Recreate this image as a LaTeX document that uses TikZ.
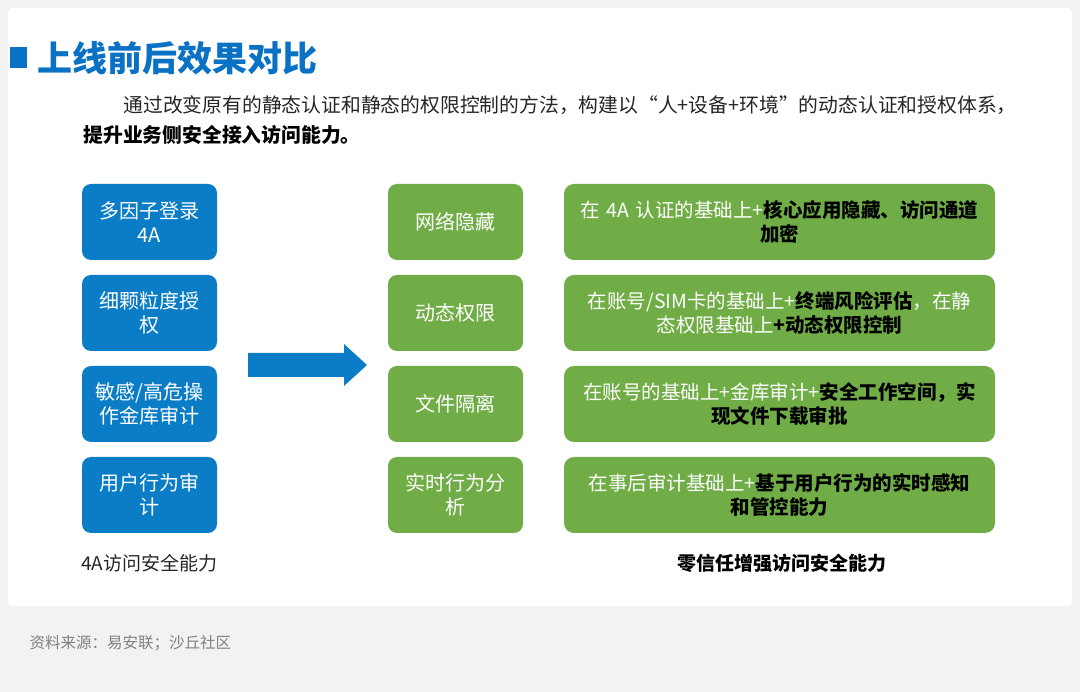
\documentclass[tikz,border=0pt]{standalone}
\usepackage{fontspec}
\setmainfont{Noto Sans CJK SC}
\begin{document}
\begin{tikzpicture}[x=1pt,y=-1pt,
 bbox/.style={fill=blueC,rounded corners=9pt,minimum width=135pt,minimum height=76pt,text=white,align=center,text width=120pt,font=\fontsize{20}{24}\selectfont},
 gbox/.style={fill=greenC,rounded corners=9pt,minimum width=135pt,minimum height=76pt,text=white,align=center,text width=120pt,font=\fontsize{20}{24}\selectfont},
 wbox/.style={fill=greenC,rounded corners=10pt,minimum width=431pt,minimum height=76pt,text=white,align=center,text width=420pt,font=\fontsize{19.5}{24}\selectfont},
 lab/.style={font=\fontsize{19}{22}\selectfont,text=black!85}]
\definecolor{blueC}{HTML}{0A7DC6}
\definecolor{greenC}{HTML}{70AD47}
\definecolor{bgC}{HTML}{F2F2F2}
\definecolor{titleC}{HTML}{0A72C4}
\useasboundingbox (0,0) rectangle (1080,692);
\fill[bgC] (0,0) rectangle (1080,692);
\fill[white,rounded corners=4pt] (8,8) rectangle (1072,606);
\fill[titleC] (10,47) rectangle (27,68);
\node[anchor=west,text=titleC,font=\fontsize{35}{38}\selectfont\bfseries] (title) at (34,58) {上线前后效果对比};
\node[anchor=west,font=\fontsize{19.8}{22}\selectfont,text=black!85] (p1) at (120,105) {通过改变原有的静态认证和静态的权限控制的方法，构建以“人+设备+环境”的动态认证和授权体系，};
\node[anchor=west,font=\fontsize{19.8}{22}\selectfont\bfseries,text=black] (p2) at (80,135) {提升业务侧安全接入访问能力。};
\node[bbox] (b1) at (149.5,222) {多因子登录\\4A};
\node[bbox] (b2) at (149.5,313) {细颗粒度授\\权};
\node[bbox] (b3) at (149.5,404) {敏感/高危操\\作金库审计};
\node[bbox] (b4) at (149.5,495) {用户行为审\\计};
\node[gbox] (g1) at (455.5,222) {网络隐藏};
\node[gbox] (g2) at (455.5,313) {动态权限};
\node[gbox] (g3) at (455.5,404) {文件隔离};
\node[gbox] (g4) at (455.5,495) {实时行为分\\析};
\node[wbox] (w1) at (779.5,222) {在 4A 认证的基础上+\textcolor{black}{\bfseries 核心应用隐藏、访问通道}\\\textcolor{black}{\bfseries 加密}};
\node[wbox] (w2) at (779.5,313) {在账号/SIM卡的基础上+\textcolor{black}{\bfseries 终端风险评估}，在静\\态权限基础上\textcolor{black}{\bfseries +动态权限控制}};
\node[wbox] (w3) at (779.5,404) {在账号的基础上+金库审计+\textcolor{black}{\bfseries 安全工作空间，实}\\\textcolor{black}{\bfseries 现文件下载审批}};
\node[wbox] (w4) at (779.5,495) {在事后审计基础上+\textcolor{black}{\bfseries 基于用户行为的实时感知}\\\textcolor{black}{\bfseries 和管控能力}};
\fill[blueC] (248,353) -- (344,353) -- (344,344) -- (367,365) -- (344,386) -- (344,377) -- (248,377) -- cycle;
\node[lab] (l1) at (149.5,563) {4A访问安全能力};
\node[lab,font=\fontsize{19}{22}\selectfont\bfseries,text=black] (l2) at (782,563) {零信任增强访问安全能力};
\node[anchor=west,font=\fontsize{15.5}{18}\selectfont,text=black!50] (src) at (26,643) {资料来源：易安联；沙丘社区};
\end{tikzpicture}
\end{document}
